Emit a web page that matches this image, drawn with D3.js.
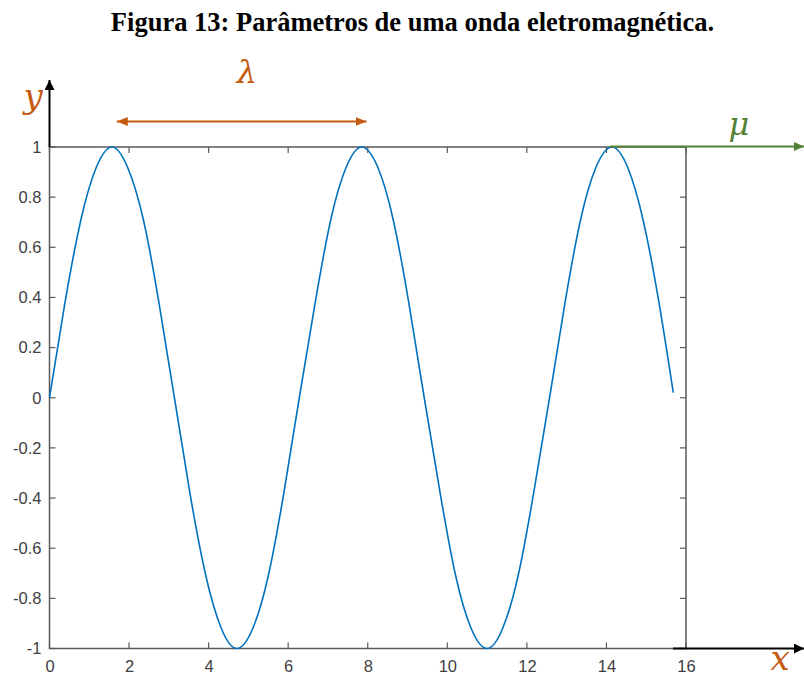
<!DOCTYPE html>
<html>
<head>
<meta charset="utf-8">
<script src="https://cdn.jsdelivr.net/npm/d3@7"></script>
<style>
  html, body { margin: 0; padding: 0; background: #fff; }
  svg { display: block; }
</style>
</head>
<body>
<svg id="chart" width="804" height="678"></svg>
<script>
// Wave samples (x in radians, y amplitude)
const waveX = [0, 0.39, 0.79, 1.18, 1.57, 1.96, 2.36, 2.75, 3.14, 3.53, 3.93, 4.32, 4.71,
  5.11, 5.50, 5.89, 6.28, 6.68, 7.07, 7.46, 7.85, 8.25, 8.64, 9.03, 9.42, 9.82, 10.21,
  10.60, 11.00, 11.39, 11.78, 12.17, 12.57, 12.96, 13.35, 13.74, 14.14, 14.53, 14.92,
  15.32, 15.68];
const waveY = [0, 0.38, 0.71, 0.92, 1, 0.92, 0.71, 0.38, 0, -0.38, -0.71, -0.92, -1,
  -0.92, -0.71, -0.38, 0, 0.38, 0.71, 0.92, 1, 0.92, 0.71, 0.38, 0, -0.38, -0.71,
  -0.92, -1, -0.92, -0.71, -0.38, 0, 0.38, 0.71, 0.92, 1, 0.92, 0.71, 0.38, 0.02];

const xTicks = [0, 2, 4, 6, 8, 10, 12, 14, 16];
const yTicks = [-1, -0.8, -0.6, -0.4, -0.2, 0, 0.2, 0.4, 0.6, 0.8, 1];
const xDomain = [0, 16];
const yDomain = [-1, 1];

// Wavelength span (between two crests) and title
const lambdaSpan = [1.69, 7.97];
const titleText = "Figura 13: Parâmetros de uma onda eletromagnética.";

(function draw() {
  const svg = d3.select("#chart");
  const pLeft = 49.5, pRight = 686, pTop = 147, pBottom = 648.5;

  const x = d3.scaleLinear().domain(xDomain).range([pLeft, pRight]);
  const y = d3.scaleLinear().domain(yDomain).range([pBottom, pTop]);

  const axisGrey = "#595959";
  const orange = "#C55A11";
  const green = "#548235";

  // Title
  svg.append("text")
    .attr("x", 412.5).attr("y", 31)
    .attr("text-anchor", "middle")
    .attr("font-family", "'Liberation Serif', 'Times New Roman', serif")
    .attr("font-weight", "bold")
    .attr("font-size", 26.5)
    .attr("fill", "#000")
    .text(titleText);

  // Arrow markers
  const defs = svg.append("defs");
  function marker(id, color, w, h) {
    defs.append("marker")
      .attr("id", id)
      .attr("viewBox", `0 0 ${w} ${h}`)
      .attr("refX", w).attr("refY", h / 2)
      .attr("markerWidth", w).attr("markerHeight", h)
      .attr("markerUnits", "userSpaceOnUse")
      .attr("orient", "auto-start-reverse")
      .append("path")
      .attr("d", `M0,0L${w},${h / 2}L0,${h}Z`)
      .attr("fill", color);
  }
  marker("arrBlack", "#000", 10, 10);
  marker("arrOrange", orange, 11, 9);
  marker("arrGreen", green, 10, 9);

  // Box frame
  const g = svg.append("g");
  g.append("rect")
    .attr("x", pLeft).attr("y", pTop)
    .attr("width", pRight - pLeft).attr("height", pBottom - pTop)
    .attr("fill", "none")
    .attr("stroke", axisGrey)
    .attr("stroke-width", 1.5);

  // Inward ticks on all four sides
  const tl = 6;
  xTicks.forEach(t => {
    g.append("line").attr("x1", x(t)).attr("x2", x(t)).attr("y1", pBottom).attr("y2", pBottom - tl)
      .attr("stroke", axisGrey).attr("stroke-width", 1.2);
    g.append("line").attr("x1", x(t)).attr("x2", x(t)).attr("y1", pTop).attr("y2", pTop + tl)
      .attr("stroke", axisGrey).attr("stroke-width", 1.2);
  });
  yTicks.forEach(t => {
    g.append("line").attr("x1", pLeft).attr("x2", pLeft + tl).attr("y1", y(t)).attr("y2", y(t))
      .attr("stroke", axisGrey).attr("stroke-width", 1.2);
    g.append("line").attr("x1", pRight).attr("x2", pRight - tl).attr("y1", y(t)).attr("y2", y(t))
      .attr("stroke", axisGrey).attr("stroke-width", 1.2);
  });

  // Tick labels via d3 axes (labels only)
  const tickFont = "'Liberation Sans', Arial, Helvetica, sans-serif";
  const xAxis = svg.append("g")
    .attr("transform", `translate(0,${pBottom})`)
    .call(d3.axisBottom(x).tickValues(xTicks).tickSize(0).tickPadding(12).tickFormat(d3.format("d")));
  const yAxis = svg.append("g")
    .attr("transform", `translate(${pLeft},0)`)
    .call(d3.axisLeft(y).tickValues(yTicks).tickSize(0).tickPadding(8)
      .tickFormat(d => String(d)));
  [xAxis, yAxis].forEach(a => {
    a.select(".domain").remove();
    a.selectAll("text")
      .attr("font-family", tickFont)
      .attr("font-size", 16.5)
      .attr("fill", "#404040");
  });

  // Sine wave
  const pts = waveX.map((v, i) => [v, waveY[i]]);
  svg.append("path")
    .datum(pts)
    .attr("fill", "none")
    .attr("stroke", "#0072BD")
    .attr("stroke-width", 1.6)
    .attr("d", d3.line().x(d => x(d[0])).y(d => y(d[1])).curve(d3.curveNatural));

  // Extended y axis (black, with arrow)
  svg.append("line")
    .attr("x1", pLeft).attr("x2", pLeft)
    .attr("y1", pTop).attr("y2", 80)
    .attr("stroke", "#000").attr("stroke-width", 2)
    .attr("marker-end", "url(#arrBlack)");

  // Extended x axis (black, with arrow)
  svg.append("line")
    .attr("x1", 673).attr("x2", 804)
    .attr("y1", pBottom).attr("y2", pBottom)
    .attr("stroke", "#000").attr("stroke-width", 2)
    .attr("marker-end", "url(#arrBlack)");

  // Propagation direction (green)
  svg.append("line")
    .attr("x1", 610).attr("x2", 804)
    .attr("y1", pTop - 0.5).attr("y2", pTop - 0.5)
    .attr("stroke", green).attr("stroke-width", 2)
    .attr("marker-end", "url(#arrGreen)");

  // Wavelength arrow
  svg.append("line")
    .attr("x1", x(lambdaSpan[0])).attr("x2", x(lambdaSpan[1]))
    .attr("y1", 121.5).attr("y2", 121.5)
    .attr("stroke", orange).attr("stroke-width", 2)
    .attr("marker-start", "url(#arrOrange)")
    .attr("marker-end", "url(#arrOrange)");

  // Symbol labels
  const symFont = "'DejaVu Serif', 'Liberation Serif', serif";
  function sym(txt, cx, cy, color, size) {
    svg.append("text")
      .attr("x", cx).attr("y", cy)
      .attr("text-anchor", "middle")
      .attr("font-family", symFont)
      .attr("font-style", "italic")
      .attr("font-size", size)
      .attr("fill", color)
      .text(txt);
  }
  sym("λ", 247, 83, orange, 32);
  sym("μ", 739, 135, green, 32);
  sym("y", 33, 108, orange, 34);
  sym("x", 780, 670, orange, 34);
})();
</script>
</body>
</html>
